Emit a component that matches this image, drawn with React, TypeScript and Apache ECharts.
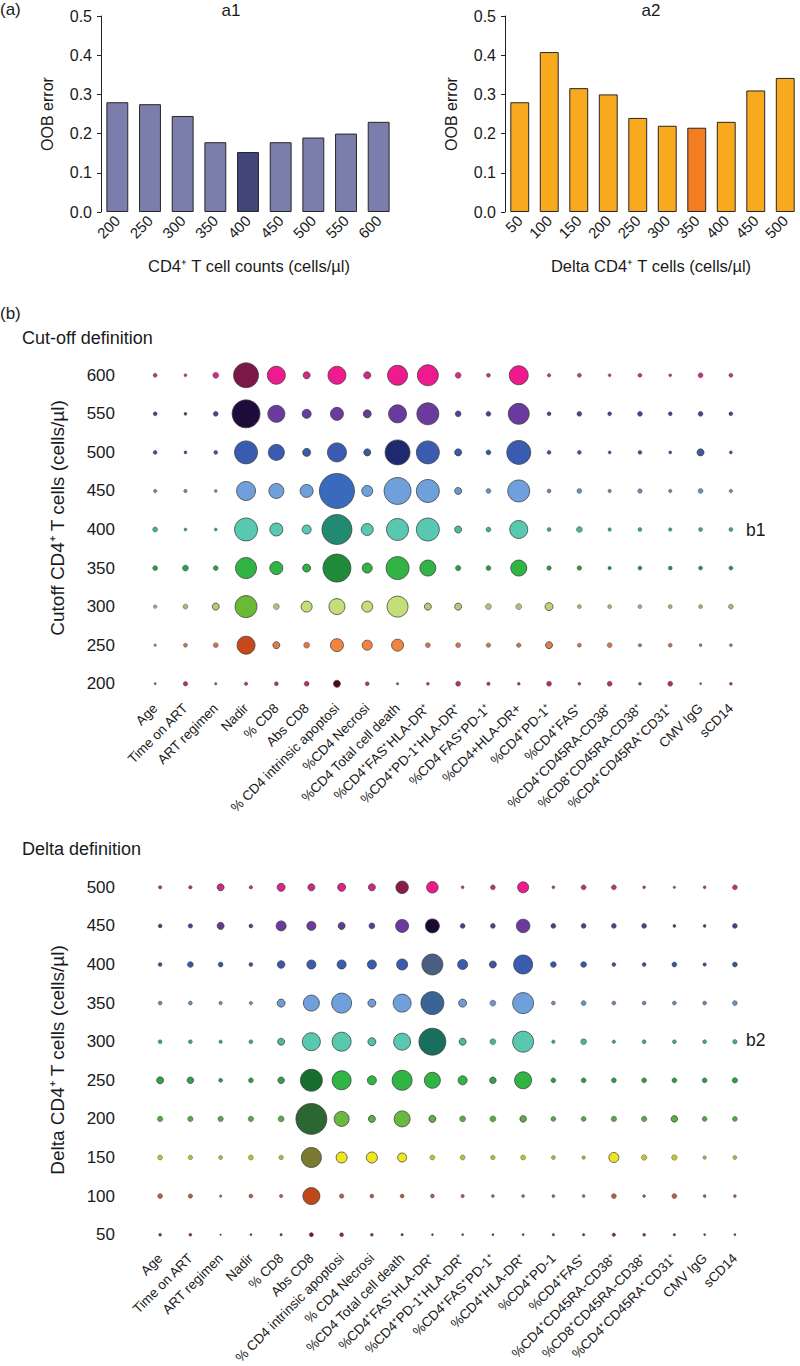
import React, { useEffect, useRef } from "react";
import * as echarts from "echarts";

const FONT = "'Liberation Sans', Arial, Helvetica, sans-serif";

// ---- Panel a1 / a2 (bar charts) ----
const a1Categories = ["200", "250", "300", "350", "400", "450", "500", "550", "600"];
const a1Values = [0.28, 0.275, 0.245, 0.178, 0.153, 0.178, 0.19, 0.2, 0.23];
const a1Best = "400";

const a2Categories = ["50", "100", "150", "200", "250", "300", "350", "400", "450", "500"];
const a2Values = [0.28, 0.408, 0.316, 0.3, 0.24, 0.22, 0.215, 0.23, 0.31, 0.342];
const a2Best = "350";

// ---- Panel b (bubble plots) ----
const b1Variables = [
  "Age", "Time on ART", "ART regimen", "Nadir", "% CD8", "Abs CD8",
  "% CD4 intrinsic apoptosi", "%CD4 Necrosi", "%CD4 Total cell death",
  "%CD4⁺FAS⁺HLA-DR⁺", "%CD4⁺PD-1⁺HLA-DR⁺", "%CD4 FAS⁺PD-1⁺", "%CD4+HLA-DR+",
  "%CD4⁺PD-1⁺", "%CD4⁺FAS⁺", "%CD4⁺CD45RA-CD38⁺", "%CD8⁺CD45RA-CD38⁺",
  "%CD4⁺CD45RA⁺CD31⁺", "CMV IgG", "sCD14",
];
const b2Variables = [
  "Age", "Time on ART", "ART regimen", "Nadir", "% CD8", "Abs CD8",
  "% CD4 intrinsic apoptosi", "% CD4 Necrosi", "%CD4 Total cell death",
  "%CD4⁺FAS⁺HLA-DR⁺", "%CD4⁺PD-1⁺HLA-DR⁺", "%CD4⁺FAS⁺PD-1⁺", "%CD4⁺HLA-DR⁺",
  "%CD4⁺PD-1", "%CD4⁺FAS⁺", "%CD4⁺CD45RA-CD38⁺", "%CD8⁺CD45RA-CD38⁺",
  "%CD4⁺CD45RA⁺CD31⁺", "CMV IgG", "sCD14",
];

const b1Cutoffs = ["200", "250", "300", "350", "400", "450", "500", "550", "600"];
const b2Deltas = ["50", "100", "150", "200", "250", "300", "350", "400", "450", "500"];

// variable importance (bubble diameter) per cutoff row
const b1Row600 = [4, 3, 6, 25, 18, 7, 18, 7, 20, 21, 6, 4, 19, 3.5, 4, 3, 4, 3, 5, 4];
const b1Row550 = [4, 3, 5, 28, 17, 9, 13, 8, 18, 22, 6, 5, 21, 4, 5, 4, 5, 4, 5, 4];
const b1Row500 = [4, 3, 4, 23, 16, 8, 19, 7, 25, 23, 7, 5, 24, 4, 4, 3, 4, 3, 7, 3];
const b1Row450 = [3.5, 3.5, 3, 19, 15, 13, 35, 11, 27, 23, 7, 5, 22, 4, 5, 3.5, 4.5, 3.5, 5, 3.5];
const b1Row400 = [5, 3, 3, 23, 13, 9, 30, 12, 22, 23, 7, 5, 18, 4, 6, 3.5, 4, 3.5, 4, 4];
const b1Row350 = [5, 6, 5, 21, 13, 8, 28, 10, 23, 16, 5.5, 5, 16, 4.5, 4.5, 3.5, 4, 4, 4, 4];
const b1Row300 = [3.5, 5, 7, 22, 6, 11, 16, 11, 21, 7, 7, 6, 6, 8, 4, 4, 4, 4, 4, 5];
const b1Row250 = [2.5, 4, 5, 18, 7, 6, 13, 10, 12, 5, 5, 4.5, 4.5, 7, 4, 5, 3.5, 4, 3, 3];
const b1Row200 = [2, 4.5, 2.5, 3.5, 4, 5, 7, 4, 2.5, 3, 5, 3.5, 3, 5, 3, 5, 3, 5, 2, 3];

const b2Row500 = [3.5, 3.5, 7, 3.5, 8, 7, 8, 7, 12.5, 11.5, 3, 5, 11, 3, 5, 5, 3, 2.5, 3, 5];
const b2Row450 = [4, 4.5, 7, 4, 10, 9, 7, 6, 13, 14, 5, 5, 13.5, 5, 5, 5, 5, 3, 3, 5];
const b2Row400 = [4, 6, 5, 4, 7.5, 9, 9, 9, 11, 21, 10, 7, 19, 6, 6, 4, 4, 5, 3.5, 5];
const b2Row350 = [4, 4, 3.5, 3.5, 8, 16, 20, 8, 18, 23, 8, 6, 21, 4, 5, 4, 4, 4, 4, 5];
const b2Row300 = [4, 4, 3.5, 4, 7, 18, 19, 8, 17, 27, 7, 6, 21, 3.5, 6, 3.5, 4, 4, 4, 4.5];
const b2Row250 = [7, 6.5, 4, 5, 6.5, 22, 19, 9, 20, 16, 9, 6.5, 17, 5, 5, 5, 5, 5, 5, 5.5];
const b2Row200 = [5.5, 5.5, 5.5, 5.5, 6, 31, 15, 7, 16, 7, 6, 6, 6.5, 5, 5, 5.5, 5.5, 6.5, 5, 5];
const b2Row150 = [5, 4.5, 4, 5, 4.5, 20, 11, 11, 9, 5, 5, 4.5, 5, 4, 3.5, 10, 5.5, 5.5, 3.5, 4];
const b2Row100 = [5, 4.5, 2.5, 4, 3.5, 17, 4.5, 4, 4, 4, 3.5, 3, 3, 3, 3, 5, 3, 5, 3, 3];
const b2Row50 = [3, 3, 1.5, 2, 2.5, 4.2, 4, 3, 2.5, 2, 2, 2, 2, 2.5, 2.5, 3.5, 3, 2.5, 2, 2];

const b1Rows = [b1Row200, b1Row250, b1Row300, b1Row350, b1Row400, b1Row450, b1Row500, b1Row550, b1Row600];
const b2Rows = [b2Row50, b2Row100, b2Row150, b2Row200, b2Row250, b2Row300, b2Row350, b2Row400, b2Row450, b2Row500];

// colour ramps per row (muted, bright, dark), bottom row first
const b1Palette = [
  ["#a04058", "#c8283a", "#500a10"],
  ["#b07458", "#f3843e", "#c8481c"],
  ["#90a878", "#c4de78", "#6aba38"],
  ["#2e8a50", "#30b444", "#1e8a3a"],
  ["#3f9a88", "#58c8b0", "#238a72"],
  ["#6a86a8", "#6fa0dc", "#3a6abc"],
  ["#3a5296", "#3a5cb0", "#1e2a70"],
  ["#4a3f85", "#6a3a9e", "#1e0d3b"],
  ["#b0407a", "#ee1a8e", "#7a1848"],
];
const b2Palette = [
  ["#80303a", "#a02030", "#801020"],
  ["#a06050", "#d06030", "#c04818"],
  ["#a8a848", "#f0e61e", "#7a7a32"],
  ["#4a9a50", "#6ab840", "#2c6630"],
  ["#2e8a50", "#30b444", "#166e2c"],
  ["#3f9a88", "#58c8b0", "#1a6e5c"],
  ["#6a86a8", "#6fa0dc", "#3a6494"],
  ["#3a5090", "#3a5cb0", "#4a5e80"],
  ["#4a3f7a", "#6a3a9e", "#1a0a30"],
  ["#a0406a", "#ee1a8e", "#8a1c4c"],
];

function hexToRgb(h: string) {
  const n = parseInt(h.slice(1), 16);
  return [(n >> 16) & 255, (n >> 8) & 255, n & 255];
}
function mix(a: string, b: string, t: number) {
  const A = hexToRgb(a), B = hexToRgb(b);
  const c = A.map((v, i) => Math.round(v + (B[i] - v) * t));
  return `rgb(${c[0]},${c[1]},${c[2]})`;
}

function bubbleData(rows: number[][], palette: string[][]) {
  const out: any[] = [];
  rows.forEach((row, r) => {
    const max = Math.max(...row);
    row.forEach((d, c) => {
      const [muted, bright, dark] = palette[r];
      let color: string;
      if (d === max) color = dark;
      else if (d >= 9) color = bright;
      else color = mix(muted, bright, Math.max(0, Math.min(1, (d - 3) / 6)));
      out.push({
        value: [c, r, d],
        itemStyle: {
          color,
          opacity: 1,
          borderColor: "rgba(60,60,60,0.75)",
          borderWidth: d > 6 ? 1 : 0.5,
        },
      });
    });
  });
  return out;
}

export default function App() {
  const ref = useRef<HTMLDivElement>(null);
  useEffect(() => {
    document.body.style.margin = "0";
    if (!ref.current) return;
    const chart = echarts.init(ref.current, undefined, { renderer: "svg" });

    const barX = (gi: number, data: string[]) => ({
      type: "category",
      gridIndex: gi,
      data,
      axisLine: { show: false },
      axisTick: { show: false },
      axisLabel: { rotate: 45, fontSize: 15, color: "#1a1a1a", margin: 6, fontFamily: FONT },
    });
    const barY = (gi: number) => ({
      type: "value",
      gridIndex: gi,
      min: 0,
      max: 0.5,
      interval: 0.1,
      axisLine: { show: true, lineStyle: { color: "#222", width: 1 } },
      axisTick: { show: true, length: 4, lineStyle: { color: "#222" } },
      splitLine: { show: false },
      axisLabel: {
        fontSize: 16,
        color: "#1a1a1a",
        margin: 9,
        fontFamily: FONT,
        formatter: (v: number) => v.toFixed(1),
      },
    });
    const bubbleX = (gi: number, data: string[], margin: number) => ({
      type: "category",
      gridIndex: gi,
      data,
      axisLine: { show: false },
      axisTick: { show: false },
      axisLabel: { rotate: 45, fontSize: 13.5, color: "#1a1a1a", margin, fontFamily: FONT, interval: 0 },
    });
    const bubbleY = (gi: number, data: string[], margin: number) => ({
      type: "category",
      gridIndex: gi,
      data,
      axisLine: { show: false },
      axisTick: { show: false },
      splitLine: { show: false },
      axisLabel: { fontSize: 17, color: "#1a1a1a", margin, fontFamily: FONT },
    });

    const txt = (x: number, y: number, text: string, size: number, opts: any = {}) => ({
      type: "text",
      x,
      y,
      rotation: opts.rotation || 0,
      style: {
        text,
        fill: "#1a1a1a",
        font: `${size}px ${FONT}`,
        textAlign: opts.align || "left",
        textVerticalAlign: "middle",
      },
    });

    chart.setOption({
      animation: false,
      backgroundColor: "#ffffff",
      grid: [
        { left: 101, top: 16, width: 294, height: 196, outerBoundsMode: "none", containLabel: false },
        { left: 505, top: 16, width: 295, height: 196, outerBoundsMode: "none", containLabel: false },
        { left: 140, top: 356, width: 606, height: 347, outerBoundsMode: "none", containLabel: false },
        { left: 145, top: 868, width: 605, height: 386, outerBoundsMode: "none", containLabel: false },
      ],
      xAxis: [
        barX(0, a1Categories),
        barX(1, a2Categories),
        bubbleX(2, b1Variables, 3),
        bubbleX(3, b2Variables, 2),
      ],
      yAxis: [barY(0), barY(1), bubbleY(2, b1Cutoffs, 25), bubbleY(3, b2Deltas, 30)],
      series: [
        {
          type: "bar",
          xAxisIndex: 0,
          yAxisIndex: 0,
          barCategoryGap: "33%",
          data: a1Values.map((v, i) => ({
            value: v,
            itemStyle: {
              color: a1Categories[i] === a1Best ? "#414578" : "#7b7eab",
              borderColor: "#262626",
              borderWidth: 1,
            },
          })),
        },
        {
          type: "bar",
          xAxisIndex: 1,
          yAxisIndex: 1,
          barCategoryGap: "36%",
          data: a2Values.map((v, i) => ({
            value: v,
            itemStyle: {
              color: a2Categories[i] === a2Best ? "#f27d22" : "#f9a91e",
              borderColor: "#262626",
              borderWidth: 1,
            },
          })),
        },
        {
          type: "scatter",
          xAxisIndex: 2,
          yAxisIndex: 2,
          symbolSize: (v: number[]) => v[2],
          itemStyle: { opacity: 1 },
          data: bubbleData(b1Rows, b1Palette),
        },
        {
          type: "scatter",
          xAxisIndex: 3,
          yAxisIndex: 3,
          symbolSize: (v: number[]) => v[2],
          itemStyle: { opacity: 1 },
          data: bubbleData(b2Rows, b2Palette),
        },
      ],
      graphic: [
        txt(0, 9, "(a)", 17),
        txt(231, 10, "a1", 17, { align: "center" }),
        txt(651, 10, "a2", 17, { align: "center" }),
        txt(47, 114, "OOB error", 16, { align: "center", rotation: Math.PI / 2 }),
        txt(451, 114, "OOB error", 16, { align: "center", rotation: Math.PI / 2 }),
        txt(249, 266, "CD4⁺ T cell counts (cells/µl)", 16.5, { align: "center" }),
        txt(651, 266, "Delta CD4⁺ T cells (cells/µl)", 16.5, { align: "center" }),
        txt(0, 313, "(b)", 17),
        txt(22, 338, "Cut-off definition", 18),
        txt(22, 849, "Delta definition", 18),
        txt(746, 530, "b1", 17.5),
        txt(746, 1040, "b2", 17.5),
        txt(57, 518, "Cutoff CD4⁺ T cells (cells/µl)", 19, { align: "center", rotation: Math.PI / 2 }),
        txt(57, 1060, "Delta CD4⁺ T cells (cells/µl)", 19, { align: "center", rotation: Math.PI / 2 }),
      ],
    });
    return () => chart.dispose();
  }, []);
  return <div ref={ref} style={{ width: 800, height: 1366 }} />;
}
